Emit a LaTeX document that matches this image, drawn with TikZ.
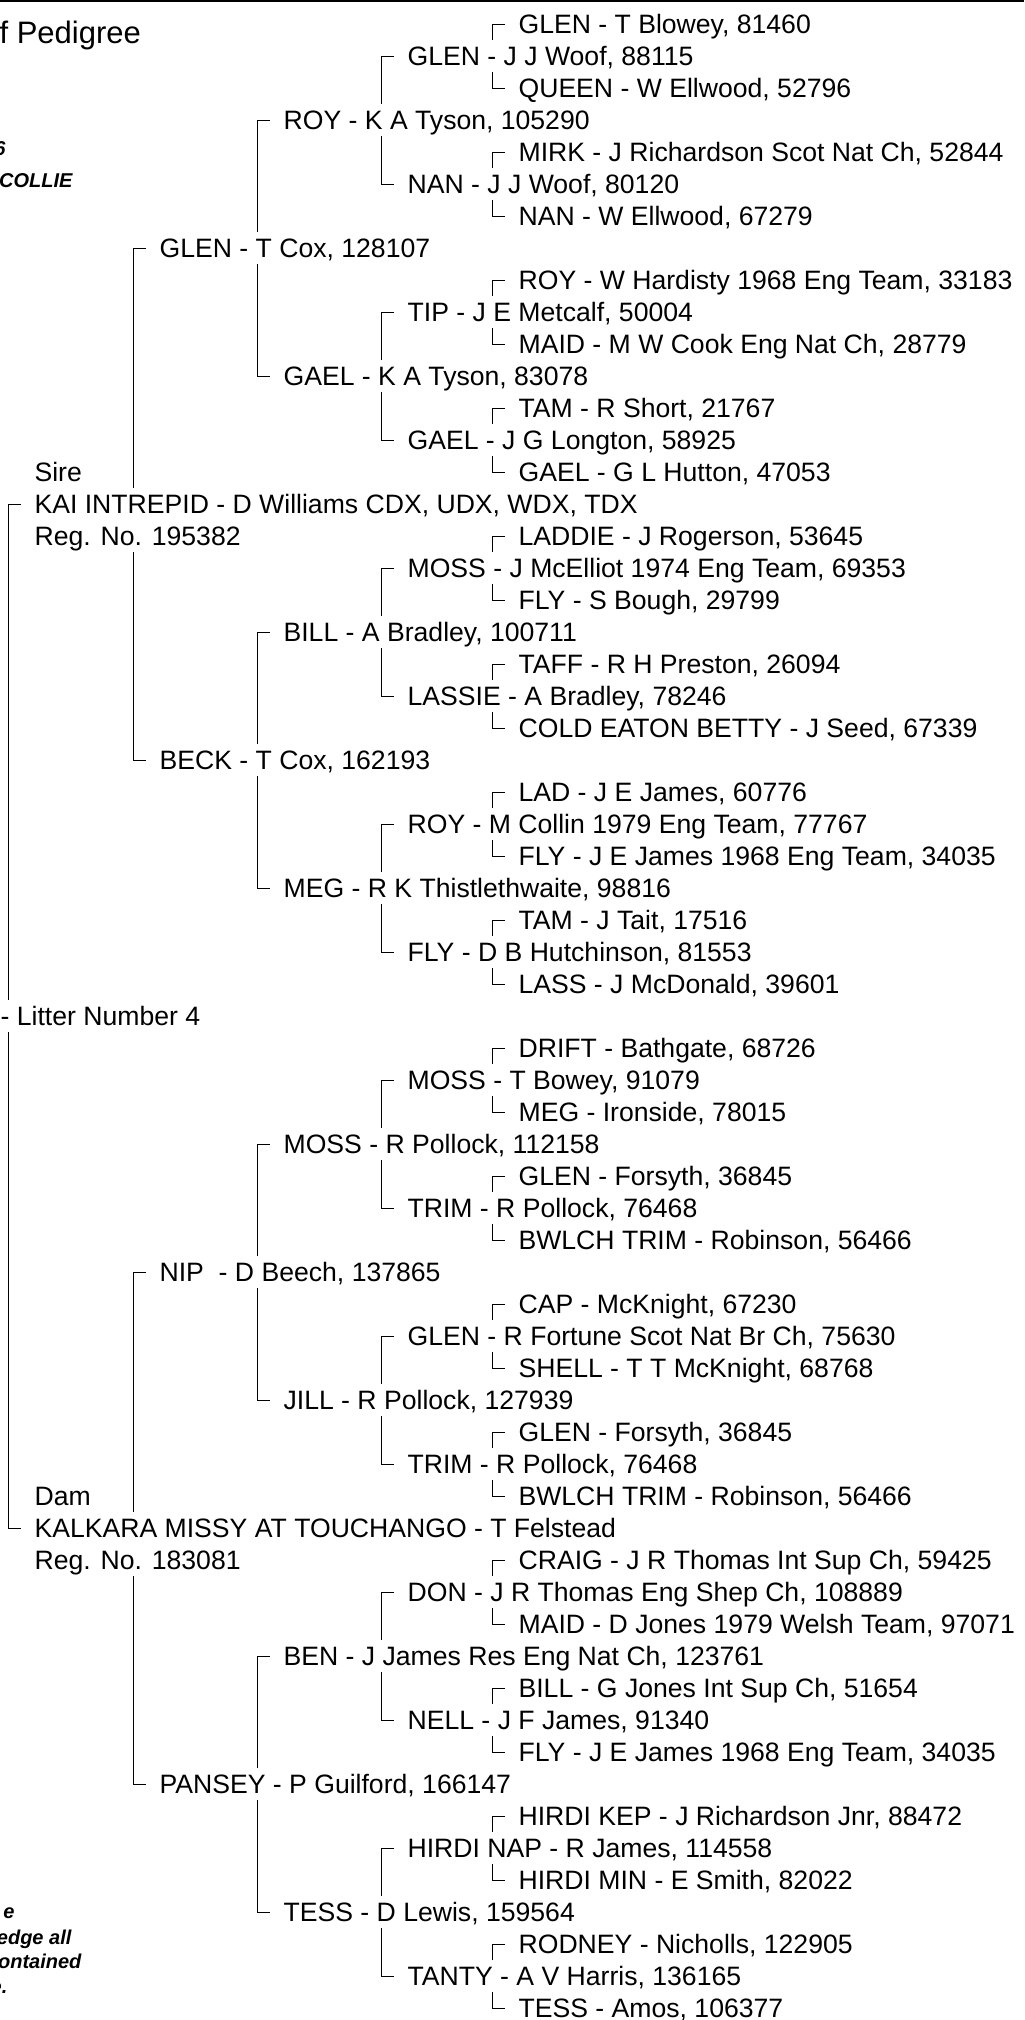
\documentclass[tikz,border=0pt]{standalone}
\usepackage{fontspec}
\setmainfont{Liberation Sans}
\usetikzlibrary{backgrounds}

\begin{document}
\begin{tikzpicture}
  [x=0.5pt,y=-0.5pt,line width=0.6pt,
   dog/.style={anchor=west,fill=white,inner xsep=6.5pt,inner ysep=0pt,
     minimum height=16pt,text height=9.5pt,text depth=0pt,
     font=\fontsize{13.3pt}{16pt}\selectfont},
   note/.style={anchor=base east,inner sep=0pt,
     font=\fontsize{10pt}{12pt}\selectfont\bfseries\itshape}]
  \useasboundingbox (0,0) rectangle (1024,2020);
  \draw[line width=0.8pt] (0,0.8) -- (1024,0.8);

  \node[anchor=base west,inner sep=0pt,font=\fontsize{15.5pt}{18pt}\selectfont] (title) at (-1,43) {f Pedigree};
  \node[note] (date) at (6,155) {6};
  \node[note] (breed) at (73,187) {COLLIE};
  \node[note] (d1) at (15,1918) {e};
  \node[note] (d2) at (72,1944) {edge all};
  \node[note] (d3) at (82,1968) {ontained};
  \node[note] (d4) at (8,1993) {e.};

  \node[dog] (n15) at (21,504) {KAI INTREPID - D Williams CDX, UDX, WDX, TDX};
  \node[dog] (n47) at (21,1528) {KALKARA MISSY AT TOUCHANGO - T Felstead};
  \node[dog] (sire) at (21,472) {Sire};
  \node[dog] (sireno) at (21,536) {Reg. No. 195382};
  \node[dog] (dam) at (21,1496) {Dam};
  \node[dog] (damno) at (21,1560) {Reg. No. 183081};
  \node[dog] (litter) at (-13,1016) {- Litter Number 4};

  \node[dog] (n7) at (146,248) {GLEN - T Cox, 128107};
  \node[dog] (n23) at (146,760) {BECK - T Cox, 162193};
  \node[dog] (n39) at (146,1272) {NIP\ \ - D Beech, 137865};
  \node[dog] (n55) at (146,1784) {PANSEY - P Guilford, 166147};

  \node[dog] (n3) at (270,120) {ROY - K A Tyson, 105290};
  \node[dog] (n11) at (270,376) {GAEL - K A Tyson, 83078};
  \node[dog] (n19) at (270,632) {BILL - A Bradley, 100711};
  \node[dog] (n27) at (270,888) {MEG - R K Thistlethwaite, 98816};
  \node[dog] (n35) at (270,1144) {MOSS - R Pollock, 112158};
  \node[dog] (n43) at (270,1400) {JILL - R Pollock, 127939};
  \node[dog] (n51) at (270,1656) {BEN - J James Res Eng Nat Ch, 123761};
  \node[dog] (n59) at (270,1912) {TESS - D Lewis, 159564};

  \node[dog] (n1) at (394,56) {GLEN - J J Woof, 88115};
  \node[dog] (n5) at (394,184) {NAN - J J Woof, 80120};
  \node[dog] (n9) at (394,312) {TIP - J E Metcalf, 50004};
  \node[dog] (n13) at (394,440) {GAEL - J G Longton, 58925};
  \node[dog] (n17) at (394,568) {MOSS - J McElliot 1974 Eng Team, 69353};
  \node[dog] (n21) at (394,696) {LASSIE - A Bradley, 78246};
  \node[dog] (n25) at (394,824) {ROY - M Collin 1979 Eng Team, 77767};
  \node[dog] (n29) at (394,952) {FLY - D B Hutchinson, 81553};
  \node[dog] (n33) at (394,1080) {MOSS - T Bowey, 91079};
  \node[dog] (n37) at (394,1208) {TRIM - R Pollock, 76468};
  \node[dog] (n41) at (394,1336) {GLEN - R Fortune Scot Nat Br Ch, 75630};
  \node[dog] (n45) at (394,1464) {TRIM - R Pollock, 76468};
  \node[dog] (n49) at (394,1592) {DON - J R Thomas Eng Shep Ch, 108889};
  \node[dog] (n53) at (394,1720) {NELL - J F James, 91340};
  \node[dog] (n57) at (394,1848) {HIRDI NAP - R James, 114558};
  \node[dog] (n61) at (394,1976) {TANTY - A V Harris, 136165};

  \node[dog] (n0) at (505,24) {GLEN - T Blowey, 81460};
  \node[dog] (n2) at (505,88) {QUEEN - W Ellwood, 52796};
  \node[dog] (n4) at (505,152) {MIRK - J Richardson Scot Nat Ch, 52844};
  \node[dog] (n6) at (505,216) {NAN - W Ellwood, 67279};
  \node[dog] (n8) at (505,280) {ROY - W Hardisty 1968 Eng Team, 33183};
  \node[dog] (n10) at (505,344) {MAID - M W Cook Eng Nat Ch, 28779};
  \node[dog] (n12) at (505,408) {TAM - R Short, 21767};
  \node[dog] (n14) at (505,472) {GAEL - G L Hutton, 47053};
  \node[dog] (n16) at (505,536) {LADDIE - J Rogerson, 53645};
  \node[dog] (n18) at (505,600) {FLY - S Bough, 29799};
  \node[dog] (n20) at (505,664) {TAFF - R H Preston, 26094};
  \node[dog] (n22) at (505,728) {COLD EATON BETTY - J Seed, 67339};
  \node[dog] (n24) at (505,792) {LAD - J E James, 60776};
  \node[dog] (n26) at (505,856) {FLY - J E James 1968 Eng Team, 34035};
  \node[dog] (n28) at (505,920) {TAM - J Tait, 17516};
  \node[dog] (n30) at (505,984) {LASS - J McDonald, 39601};
  \node[dog] (n32) at (505,1048) {DRIFT - Bathgate, 68726};
  \node[dog] (n34) at (505,1112) {MEG - Ironside, 78015};
  \node[dog] (n36) at (505,1176) {GLEN - Forsyth, 36845};
  \node[dog] (n38) at (505,1240) {BWLCH TRIM - Robinson, 56466};
  \node[dog] (n40) at (505,1304) {CAP - McKnight, 67230};
  \node[dog] (n42) at (505,1368) {SHELL - T T McKnight, 68768};
  \node[dog] (n44) at (505,1432) {GLEN - Forsyth, 36845};
  \node[dog] (n46) at (505,1496) {BWLCH TRIM - Robinson, 56466};
  \node[dog] (n48) at (505,1560) {CRAIG - J R Thomas Int Sup Ch, 59425};
  \node[dog] (n50) at (505,1624) {MAID - D Jones 1979 Welsh Team, 97071};
  \node[dog] (n52) at (505,1688) {BILL - G Jones Int Sup Ch, 51654};
  \node[dog] (n54) at (505,1752) {FLY - J E James 1968 Eng Team, 34035};
  \node[dog] (n56) at (505,1816) {HIRDI KEP - J Richardson Jnr, 88472};
  \node[dog] (n58) at (505,1880) {HIRDI MIN - E Smith, 82022};
  \node[dog] (n60) at (505,1944) {RODNEY - Nicholls, 122905};
  \node[dog] (n62) at (505,2008) {TESS - Amos, 106377};

  \begin{scope}[on background layer]
    \foreach \from/\to in {n15/n47,n7/n23,n39/n55,n3/n11,n19/n27,n35/n43,n51/n59}
      \draw (\from.west) -- ++(-13,0) |- (\to.west);
    \foreach \from/\to in {n1/n5,n9/n13,n17/n21,n25/n29,n33/n37,n41/n45,n49/n53,n57/n61}
      \draw (\from.west) -- ++(-13,0) |- (\to.west);
    \foreach \from/\to in {n0/n2,n4/n6,n8/n10,n12/n14,n16/n18,n20/n22,n24/n26,n28/n30,
        n32/n34,n36/n38,n40/n42,n44/n46,n48/n50,n52/n54,n56/n58,n60/n62}
      \draw (\from.west) -- ++(-13,0) |- (\to.west);
  \end{scope}

\end{tikzpicture}
\end{document}
